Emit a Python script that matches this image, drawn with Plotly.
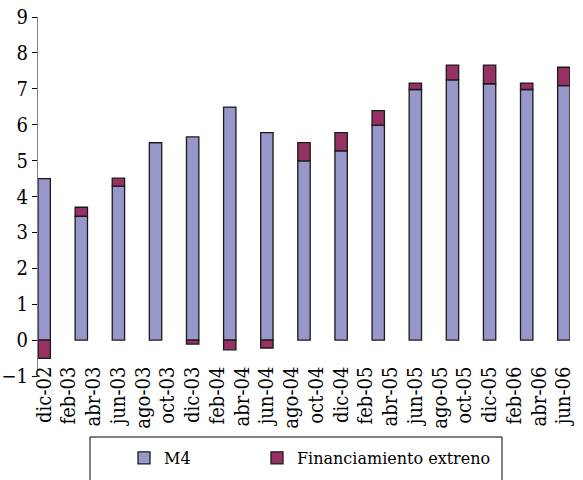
import plotly.graph_objects as go

meses = ["ene", "feb", "mar", "abr", "may", "jun", "jul", "ago", "sep", "oct", "nov", "dic"]

# Quarterly observations
periodos = ["dic-02", "mar-03", "jun-03", "sep-03", "dic-03", "mar-04", "jun-04", "sep-04",
            "dic-04", "mar-05", "jun-05", "sep-05", "dic-05", "mar-06", "jun-06"]
m4 = [4.50, 3.45, 4.29, 5.50, 5.66, 6.49, 5.78, 4.99, 5.27, 5.99, 6.98, 7.25, 7.14, 6.98, 7.09]
financiamiento = [-0.51, 0.25, 0.22, 0.0, -0.11, -0.27, -0.22, 0.51, 0.51, 0.40, 0.18, 0.41, 0.52, 0.18, 0.51]

# Axis labels (every two months)
etiquetas = ["dic-02", "feb-03", "abr-03", "jun-03", "ago-03", "oct-03", "dic-03", "feb-04",
             "abr-04", "jun-04", "ago-04", "oct-04", "dic-04", "feb-05", "abr-05", "jun-05",
             "ago-05", "oct-05", "dic-05", "feb-06", "abr-06", "jun-06"]


def month_index(p):
    m, y = p.split("-")
    return (2000 + int(y)) * 12 + meses.index(m)


base = month_index(periodos[0])
x_bars = [month_index(p) - base for p in periodos]
x_labels = [month_index(e) - base for e in etiquetas]
x_marks = [v - 0.5 for v in x_labels[1:]]
x_range = [x_labels[0] - 0.5, x_labels[-1] + 0.5]

FONT_Y = "DejaVu Serif Condensed"
FONT_X = "DejaVu Serif Condensed"
FONT_L = "DejaVu Serif"
C_M4 = "#9797CA"
C_FIN = "#963263"

fig = go.Figure()
fig.add_trace(go.Bar(x=x_bars, y=m4, name="M4", width=1.0, legend="legend",
                     marker=dict(color=C_M4, line=dict(color="#1a1a1a", width=1.3))))
fig.add_trace(go.Bar(x=x_bars, y=financiamiento, name="Financiamiento extreno", width=1.0,
                     legend="legend2",
                     marker=dict(color=C_FIN, line=dict(color="#1a1a1a", width=1.3))))

W, H = 583, 480
ML, MR, MT, MB = 38, 13, 17, 104
pw, ph = W - ML - MR, H - MT - MB


def px_x(p):
    return (p - ML) / pw


def px_y(p):
    return (H - MB - p) / ph


leg_common = dict(orientation="h", yanchor="top", xanchor="left", y=px_y(441),
                  bgcolor="rgba(0,0,0,0)", borderwidth=0, font=dict(size=16, family=FONT_L))

fig.update_layout(
    width=W, height=H,
    barmode="relative",
    paper_bgcolor="white", plot_bgcolor="white",
    margin=dict(l=ML, r=MR, t=MT, b=MB, autoexpand=False),
    font=dict(family=FONT_L, color="black"),
    showlegend=True,
    legend=dict(x=px_x(124), **leg_common),
    legend2=dict(x=px_x(257), **leg_common),
    shapes=[dict(type="rect", xref="paper", yref="paper",
                 x0=px_x(90), x1=px_x(502), y0=px_y(437), y1=px_y(486),
                 line=dict(color="black", width=1), fillcolor="rgba(0,0,0,0)")],
    xaxis=dict(range=x_range, tickmode="array", tickvals=x_labels, ticktext=etiquetas,
               tickangle=-90, ticks="", showline=False, showgrid=False, zeroline=False,
               anchor="free", position=0.04, tickfont=dict(size=20, family=FONT_X)),
    xaxis2=dict(range=x_range, overlaying="x", anchor="free", position=0.1,
                showline=True, linecolor="black", linewidth=1, showgrid=False, zeroline=False,
                tickmode="array", tickvals=x_marks, ticks="outside", ticklen=6,
                tickcolor="black", showticklabels=False),
    yaxis=dict(range=[-1, 9], dtick=1, tick0=0, ticks="outside", ticklen=5, tickcolor="black",
               showline=True, linecolor="#808080", linewidth=1, showgrid=False, zeroline=False,
               tickfont=dict(size=20, family=FONT_Y)),
)

fig.write_html("out.html", config={"displayModeBar": False},
               post_script="document.body.style.margin='0';")
